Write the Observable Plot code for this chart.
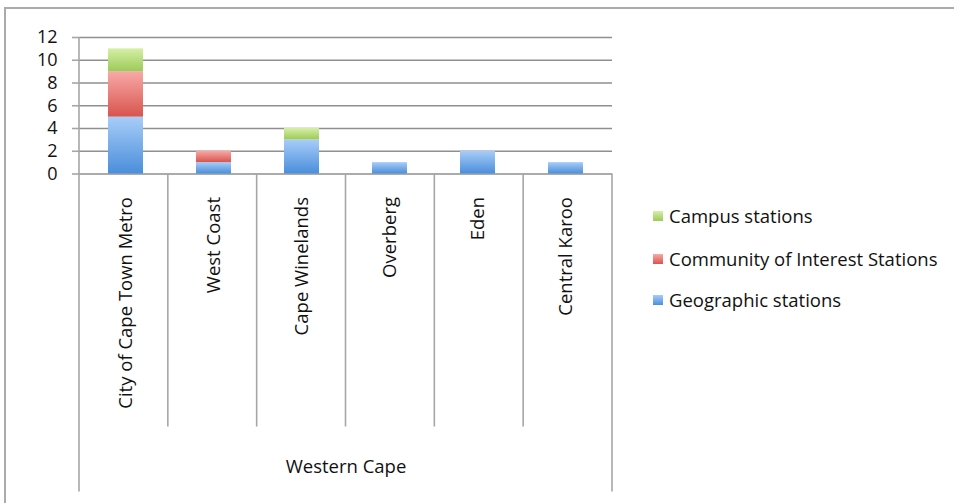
<!DOCTYPE html>
<html>
<head>
<meta charset="utf-8">
<script src="https://cdn.jsdelivr.net/npm/d3@7"></script>
<script src="https://cdn.jsdelivr.net/npm/@observablehq/plot@0.6"></script>
<style>
  html, body { margin: 0; padding: 0; background: #fff; }
  #chart {
    position: relative; width: 954px; height: 503px; overflow: hidden;
    font-family: "Open Sans", sans-serif; color: #111;
  }
  #frame {
    position: absolute; left: 4px; top: 7px; width: 960px; height: 520px;
    border-top: 2px solid #ababab; border-left: 2px solid #ababab;
  }
  #chart svg { position: absolute; left: 0; top: 0; }
  .legend { position: absolute; left: 653px; font-size: 18.5px; }
  .legend div { position: absolute; white-space: nowrap; display: flex; align-items: center; }
  .legend span.sw { display: inline-block; width: 10px; height: 10px; margin-right: 6px; }
</style>
</head>
<body>
<div id="chart"><div id="frame"></div></div>
<script>
// Radio stations per district, Western Cape
const districts = ["City of Cape Town Metro", "West Coast", "Cape Winelands", "Overberg", "Eden", "Central Karoo"];
const series = ["Geographic stations", "Community of Interest Stations", "Campus stations"];
const geographic = [5, 1, 3, 1, 2, 1];
const community  = [4, 1, 0, 0, 0, 0];
const campus     = [2, 0, 1, 0, 0, 0];
const yTicks = [0, 2, 4, 6, 8, 10, 12];
const province = "Western Cape";

// gradient stops per series: [top, bottom]
const gradients = [
  {id: "grad-geo", top: "#a8cdf8", bottom: "#4a8edb"},
  {id: "grad-com", top: "#f8aaa8", bottom: "#d8544e"},
  {id: "grad-cam", top: "#d6efa6", bottom: "#9dca58"}
];

const rows = [];
districts.forEach((d, i) => {
  [geographic, community, campus].forEach((arr, s) => {
    rows.push({district: d, series: series[s], value: arr[i]});
  });
});

const defs = () => {
  const g = d3.create("svg:defs");
  for (const gr of gradients) {
    const lg = g.append("linearGradient").attr("id", gr.id).attr("x1", 0).attr("x2", 0).attr("y1", 0).attr("y2", 1);
    lg.append("stop").attr("offset", "0%").attr("stop-color", gr.top);
    lg.append("stop").attr("offset", "100%").attr("stop-color", gr.bottom);
  }
  return g.node();
};

// axis lines and the category separators running down through the label area
const separators = (index, scales, values, dim) => {
  const n = districts.length;
  const x0 = dim.marginLeft, x1 = dim.width - dim.marginRight;
  const step = (x1 - x0) / n;
  const yBase = dim.height - dim.marginBottom;
  const g = d3.create("svg:g").attr("stroke", "#a6a6a6").attr("stroke-width", 1.6);
  g.append("line").attr("x1", x0).attr("x2", x0).attr("y1", dim.marginTop).attr("y2", yBase + 318);
  g.append("line").attr("x1", x1).attr("x2", x1).attr("y1", yBase).attr("y2", yBase + 318);
  for (let i = 1; i < n; i++) {
    const x = x0 + i * step;
    g.append("line").attr("x1", x).attr("x2", x).attr("y1", yBase).attr("y2", yBase + 253);
  }
  return g.node();
};

const plot = Plot.plot({
  width: 954,
  height: 503,
  marginLeft: 79,
  marginRight: 342,
  marginTop: 37,
  marginBottom: 329.5,
  style: {fontFamily: "'Open Sans', sans-serif", fontSize: "18.5px", color: "#111", background: "transparent"},
  x: {domain: districts, paddingInner: 0.6, paddingOuter: 0.3, axis: null},
  y: {domain: [0, 12], axis: null},
  color: {domain: series, range: gradients.map(g => `url(#${g.id})`)},
  marks: [
    defs,
    Plot.ruleY(yTicks, {stroke: "#8f8f8f", strokeWidth: 1.6}),
    Plot.axisY({ticks: yTicks, tickSize: 7, tickPadding: 15, stroke: "#a6a6a6", strokeWidth: 1.6, fontSize: 18, fill: "#111", label: null}),
    separators,
    Plot.barY(rows, {x: "district", y: "value", fill: "series"}),
    Plot.text(districts, {x: d => d, frameAnchor: "bottom", dy: 23, rotate: -90, textAnchor: "end", lineAnchor: "middle", fontSize: 18.5, fill: "#111"}),
    Plot.text([province], {frameAnchor: "bottom", dy: 299, fontSize: 18.5, fill: "#111"})
  ]
});
document.getElementById("chart").appendChild(plot);

// legend, listed top to bottom in reverse stacking order
const legend = document.createElement("div");
legend.className = "legend";
const legendY = [216, 259, 300];
series.slice().reverse().forEach((s, i) => {
  const gr = gradients[series.length - 1 - i];
  const item = document.createElement("div");
  item.style.top = (legendY[i] - 13) + "px";
  item.innerHTML = `<span class="sw" style="background:linear-gradient(${gr.top}, ${gr.bottom})"></span>${s}`;
  legend.appendChild(item);
});
document.getElementById("chart").appendChild(legend);
</script>
</body>
</html>
